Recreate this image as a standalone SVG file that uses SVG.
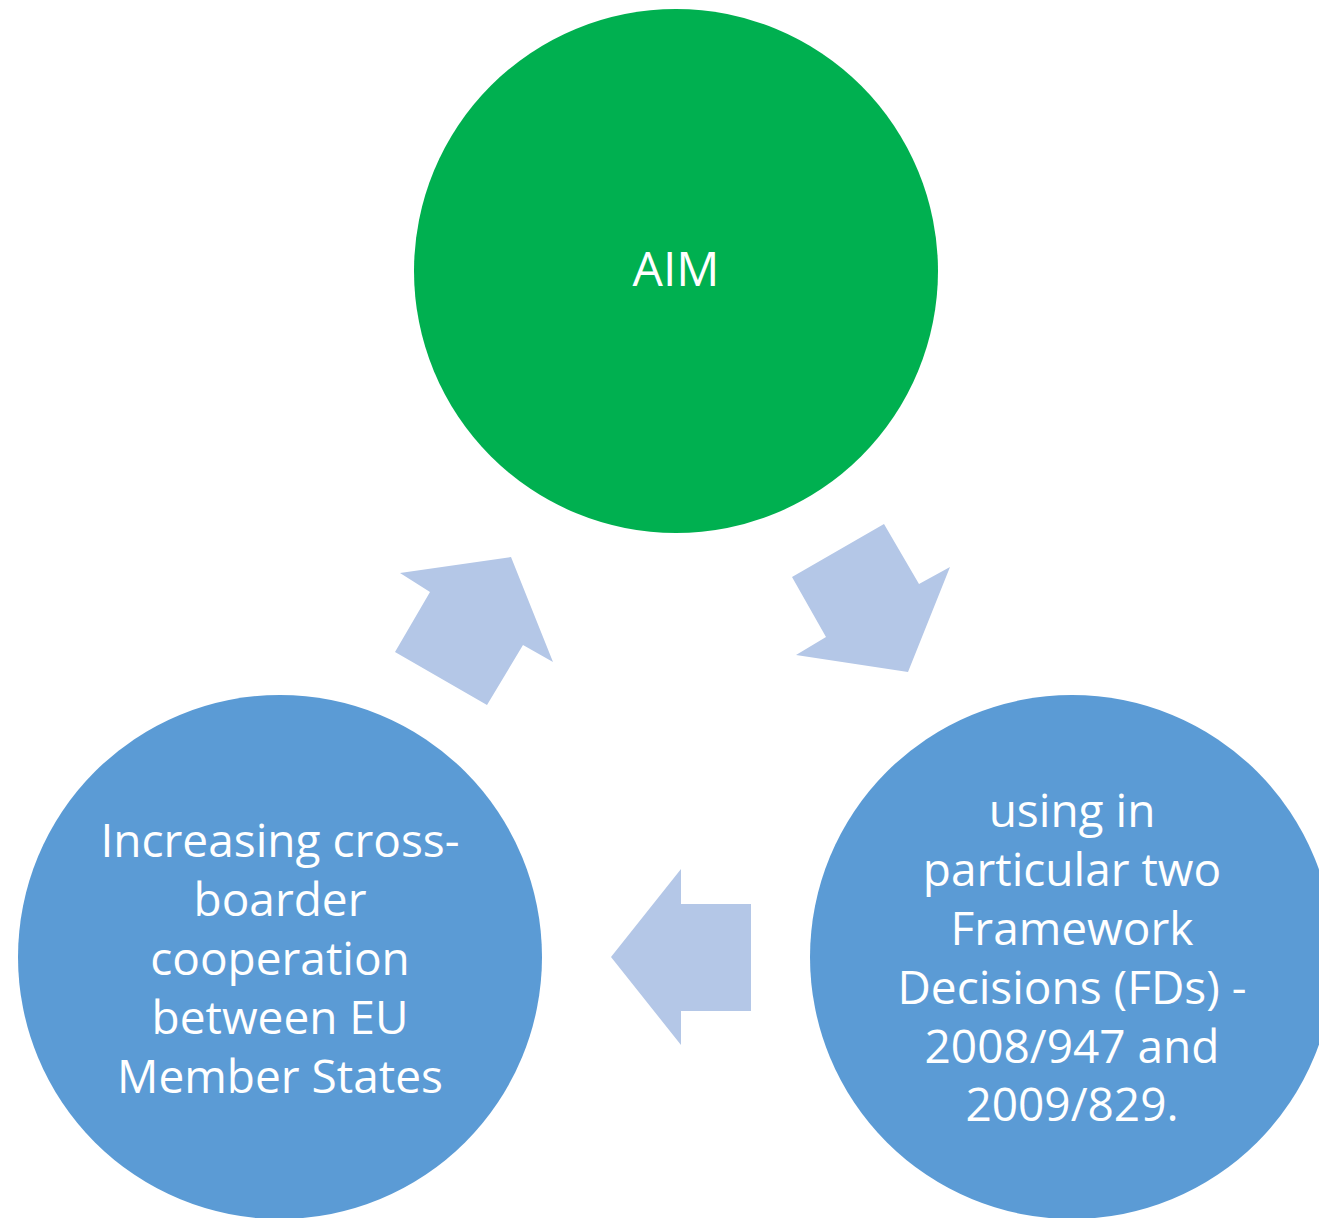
<svg xmlns="http://www.w3.org/2000/svg" width="1319" height="1218" viewBox="0 0 1319 1218">
<style>
.t{font-family:"Open Sans","Noto Sans",sans-serif;font-size:46px;fill:#fff;text-anchor:middle}
.arr{fill:#B4C7E7}
</style>
<rect width="1319" height="1218" fill="#fff"/>
<g id="connectors">
<polygon class="arr" points="400,573 511,557 553,662 523,645 487,705 395,652 430,592"/>
<polygon class="arr" points="792,577 884,524 919,584 950,567 908,672 796,655 826,637"/>
<polygon class="arr" points="611,957 681,869 681,904 751,904 751,1011 681,1011 681,1045"/>
</g>
<g id="aim">
<circle cx="676" cy="271" r="262" fill="#00B050"/>
<text class="t" x="676" y="286" style="font-size:48px">AIM</text>
</g>
<g id="using">
<circle cx="1072" cy="957" r="262" fill="#5B9BD5"/>
<text class="t" x="1072" y="827">using in</text>
<text class="t" x="1072" y="886">particular two</text>
<text class="t" x="1072" y="945">Framework</text>
<text class="t" x="1072" y="1004">Decisions (FDs) -</text>
<text class="t" x="1072" y="1063">2008/947 and</text>
<text class="t" x="1072" y="1121">2009/829.</text>
</g>
<g id="increasing">
<circle cx="280" cy="957" r="262" fill="#5B9BD5"/>
<text class="t" x="280" y="857">Increasing cross-</text>
<text class="t" x="280" y="916">boarder</text>
<text class="t" x="280" y="975">cooperation</text>
<text class="t" x="280" y="1034">between EU</text>
<text class="t" x="280" y="1093">Member States</text>
</g>
</svg>
